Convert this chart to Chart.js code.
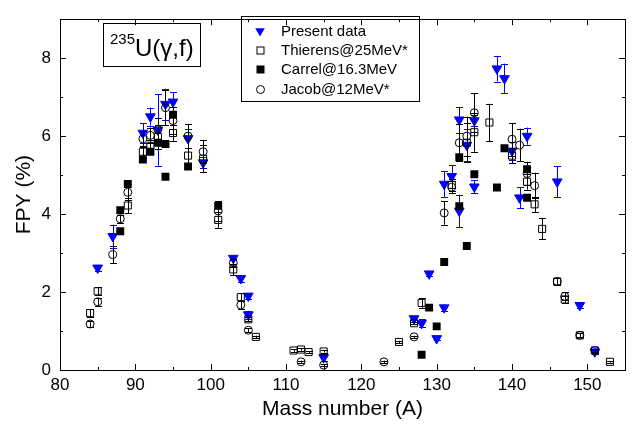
<!DOCTYPE html>
<html lang="en">
<head>
    <meta charset="UTF-8">
    <title>235U(γ,f) FPY</title>
    <script src="https://cdn.jsdelivr.net/npm/chart.js"></script>
    <style>
        body { margin: 0; background: #fff; }
        canvas { display: block; }
    </style>
</head>
<body>

<canvas id="fpyChart" width="638" height="424"></canvas>

<script>
    // tick positions
    const xTicks = [80, 90, 100, 110, 120, 130, 140, 150];
    const xMinor = [85, 95, 105, 115, 125, 135, 145, 155];
    const yTicks = [0, 2, 4, 6, 8];
    const yMinor = [1, 3, 5, 7, 9];

    // Present data
    const presentA   = [85, 87, 91, 92, 93, 94, 95, 97, 99, 103, 104, 105, 105, 115, 127, 128, 129, 130, 131, 131, 132, 133, 133, 134, 135, 135, 138, 139, 140, 141, 142, 146, 149, 151];
    const presentY   = [2.62, 3.43, 6.08, 6.5, 6.16, 6.82, 6.88, 5.94, 5.32, 2.87, 2.35, 1.9, 1.42, 0.32, 1.32, 1.2, 2.47, 0.81, 1.6, 4.77, 4.97, 4.08, 6.42, 5.77, 6.4, 4.7, 7.73, 7.48, 5.62, 4.42, 6.0, 4.83, 1.66, 0.47];
    const presentErr = [0.08, 0.3, 0.25, 0.23, 0.92, 0.4, 0.25, 0.24, 0.15, 0.06, 0.08, 0.07, 0.1, 0.1, 0.05, 0.1, 0.07, 0.05, 0.08, 0.33, 0.29, 0.42, 0.33, 0.42, 0.15, 0.17, 0.33, 0.38, 0.24, 0.27, 0.22, 0.4, 0.07, 0.05];

    // Thierens@25MeV*
    const thierensA   = [84, 85, 89, 91, 92, 93, 95, 97, 99, 101, 103, 104, 105, 106, 111, 112, 113, 115, 125, 127, 128, 132, 134, 135, 137, 140, 142, 143, 144, 146, 147, 149, 151, 153];
    const thierensY   = [1.46, 2.02, 4.22, 5.6, 5.75, 5.98, 6.08, 5.5, 5.42, 3.85, 2.58, 1.87, 1.3, 0.85, 0.5, 0.525, 0.46, 0.475, 0.72, 1.2, 1.72, 4.75, 5.83, 6.1, 6.35, 5.5, 4.83, 4.25, 3.62, 2.27, 1.81, 0.89, 0.5, 0.21];
    const thierensErr = [0.1, 0.1, 0.2, 0.15, 0.15, 0.3, 0.2, 0.2, 0.35, 0.2, 0.15, 0.1, 0.05, 0.03, 0.03, 0.03, 0.03, 0.03, 0.03, 0.03, 0.12, 0.15, 0.5, 0.5, 0.48, 0.2, 0.2, 0.2, 0.27, 0.1, 0.1, 0.05, 0.03, 0.02];

    // Carrel@16.3MeV
    const carrelA = [88, 88, 89, 91, 92, 93, 94, 94, 95, 97, 101, 128, 129, 130, 131, 133, 133, 134, 135, 138, 139, 142, 142];
    const carrelY = [3.56, 4.1, 4.77, 5.4, 5.6, 5.83, 5.8, 4.96, 6.55, 5.22, 4.21, 0.39, 1.6, 1.12, 2.77, 5.46, 4.2, 3.18, 5.02, 4.68, 5.69, 5.15, 4.42];

    // Jacob@12MeV*
    const jacobA   = [84, 85, 87, 88, 89, 91, 92, 93, 94, 95, 97, 99, 101, 103, 104, 105, 112, 115, 123, 127, 131, 132, 133, 134, 135, 140, 141, 142, 143, 146, 147, 149, 151];
    const jacobY   = [1.18, 1.75, 2.96, 3.88, 4.56, 5.93, 6.02, 6.17, 6.73, 6.4, 6.0, 5.6, 4.08, 2.75, 1.67, 1.02, 0.21, 0.125, 0.21, 0.85, 4.03, 4.69, 5.83, 6.0, 6.6, 5.92, 5.77, 5.04, 4.73, 2.27, 1.89, 0.89, 0.5];
    const jacobErr = [0.08, 0.1, 0.22, 0.1, 0.2, 0.2, 0.2, 0.3, 0.45, 0.35, 0.3, 0.3, 0.25, 0.1, 0.1, 0.05, 0.03, 0.03, 0.03, 0.03, 0.3, 0.15, 0.48, 0.5, 0.5, 0.42, 0.42, 0.3, 0.33, 0.1, 0.1, 0.05, 0.05];

    const FONT = "'Liberation Sans', Arial, sans-serif";
    const BLUE = '#0000ff';

    function points(xs, ys) {
        return xs.map((x, i) => ({ x: x, y: ys[i] }));
    }

    // vertical error bars with caps, drawn under each dataset's markers
    const errorBars = {
        id: 'errorBars',
        beforeDatasetDraw(chart, args) {
            const ds = chart.data.datasets[args.index];
            if (!ds.errors) return;
            const ctx = chart.ctx;
            const yScale = chart.scales.y;
            ctx.save();
            ctx.strokeStyle = ds.errorColor;
            ctx.lineWidth = 1;
            args.meta.data.forEach((pt, i) => {
                const v = ds.data[i].y;
                const e = ds.errors[i];
                const top = yScale.getPixelForValue(v + e);
                const bot = yScale.getPixelForValue(v - e);
                const x = Math.round(pt.x) + 0.5;
                ctx.beginPath();
                ctx.moveTo(x, top);
                ctx.lineTo(x, bot);
                ctx.moveTo(x - 3.5, Math.round(top) + 0.5);
                ctx.lineTo(x + 3.5, Math.round(top) + 0.5);
                ctx.moveTo(x - 3.5, Math.round(bot) + 0.5);
                ctx.lineTo(x + 3.5, Math.round(bot) + 0.5);
                ctx.stroke();
            });
            ctx.restore();
        }
    };

    function marker(ctx, kind, x, y) {
        ctx.beginPath();
        if (kind === 'tri') {
            ctx.fillStyle = BLUE;
            ctx.moveTo(x - 4.8, y - 2.8);
            ctx.lineTo(x + 4.8, y - 2.8);
            ctx.lineTo(x, y + 5.5);
            ctx.closePath();
            ctx.fill();
        } else if (kind === 'open') {
            ctx.strokeStyle = '#000';
            ctx.strokeRect(x - 3, y - 3, 7, 7);
        } else if (kind === 'filled') {
            ctx.fillStyle = '#000';
            ctx.fillRect(x - 3.5, y - 3.5, 8, 8);
        } else {
            ctx.strokeStyle = '#000';
            ctx.arc(x + 0.5, y + 0.5, 4, 0, Math.PI * 2);
            ctx.stroke();
        }
    }

    // frame, inward ticks, title box and legend
    const decorations = {
        id: 'decorations',
        afterDraw(chart) {
            const ctx = chart.ctx;
            const a = chart.chartArea;
            const xs = chart.scales.x, ys = chart.scales.y;
            ctx.save();
            ctx.strokeStyle = '#000';
            ctx.lineWidth = 1;
            ctx.strokeRect(Math.round(a.left) + 0.5, Math.round(a.top) + 0.5, Math.round(a.right - a.left), Math.round(a.bottom - a.top));

            ctx.beginPath();
            const xt = (vals, len) => vals.forEach(v => {
                const p = Math.round(xs.getPixelForValue(v)) + 0.5;
                ctx.moveTo(p, a.bottom); ctx.lineTo(p, a.bottom - len);
                ctx.moveTo(p, a.top); ctx.lineTo(p, a.top + len);
            });
            const yt = (vals, len) => vals.forEach(v => {
                const p = Math.round(ys.getPixelForValue(v)) + 0.5;
                ctx.moveTo(a.left, p); ctx.lineTo(a.left + len, p);
                ctx.moveTo(a.right, p); ctx.lineTo(a.right - len, p);
            });
            xt(xTicks, 6); xt(xMinor, 3);
            yt(yTicks, 6); yt(yMinor, 3);
            ctx.stroke();

            // nuclide box
            ctx.strokeRect(103.5, 23.5, 97, 43);
            ctx.fillStyle = '#000';
            ctx.textBaseline = 'alphabetic';
            ctx.font = '15px ' + FONT;
            ctx.fillText('235', 110, 44);
            ctx.font = '24px ' + FONT;
            ctx.fillText('U(γ,f)', 135, 56);

            // legend
            ctx.strokeRect(241.5, 16.5, 178, 85);
            const entries = [
                ['tri', 'Present data', 31],
                ['open', 'Thierens@25MeV*', 50],
                ['filled', 'Carrel@16.3MeV', 69],
                ['circle', 'Jacob@12MeV*', 89]
            ];
            entries.forEach(([kind, label, y]) => {
                marker(ctx, kind, 260, y);
                ctx.fillStyle = '#000';
                ctx.font = '15px ' + FONT;
                ctx.textBaseline = 'middle';
                ctx.fillText(label, 281, y + 1);
            });
            ctx.restore();
        }
    };

    new Chart(document.getElementById('fpyChart'), {
        type: 'scatter',
        data: {
            datasets: [
                {
                    label: 'Jacob@12MeV*',
                    data: points(jacobA, jacobY),
                    errors: jacobErr,
                    errorColor: '#000',
                    pointStyle: 'circle',
                    pointRadius: 4,
                    borderWidth: 1,
                    borderColor: '#000',
                    backgroundColor: 'rgba(0,0,0,0)',
                    order: 1
                },
                {
                    label: 'Carrel@16.3MeV',
                    data: points(carrelA, carrelY),
                    pointStyle: 'rect',
                    pointRadius: 5.6,
                    borderWidth: 0,
                    borderColor: '#000',
                    backgroundColor: '#000',
                    order: 2
                },
                {
                    label: 'Thierens@25MeV*',
                    data: points(thierensA, thierensY),
                    errors: thierensErr,
                    errorColor: '#000',
                    pointStyle: 'rect',
                    pointRadius: 5,
                    borderWidth: 1,
                    borderColor: '#000',
                    backgroundColor: 'rgba(0,0,0,0)',
                    order: 3
                },
                {
                    label: 'Present data',
                    data: points(presentA, presentY),
                    errors: presentErr,
                    errorColor: BLUE,
                    pointStyle: 'triangle',
                    pointRotation: 180,
                    pointRadius: 5.6,
                    borderWidth: 1,
                    borderColor: BLUE,
                    backgroundColor: BLUE,
                    order: 4
                }
            ]
        },
        options: {
            responsive: false,
            animation: false,
            layout: { padding: { top: 0, right: 13, left: 0, bottom: 0 } },
            plugins: {
                legend: { display: false },
                tooltip: { enabled: false }
            },
            scales: {
                x: {
                    type: 'linear',
                    min: 80,
                    max: 155,
                    grid: { display: false, drawTicks: false },
                    border: { display: false },
                    afterBuildTicks: s => { s.ticks = xTicks.map(v => ({ value: v })); },
                    afterFit: s => { s.height = 54; },
                    ticks: { color: '#000', font: { size: 17, family: FONT }, padding: 5, maxRotation: 0 },
                    title: {
                        display: true,
                        text: 'Mass number (A)',
                        color: '#000',
                        font: { size: 21, family: FONT },
                        padding: { top: 0, bottom: 2 }
                    }
                },
                y: {
                    min: 0,
                    max: 9,
                    grid: { display: false, drawTicks: false },
                    border: { display: false },
                    afterBuildTicks: s => { s.ticks = yTicks.map(v => ({ value: v })); },
                    afterFit: s => { s.width = 60; },
                    ticks: { color: '#000', font: { size: 17, family: FONT }, padding: 9 },
                    title: {
                        display: true,
                        text: 'FPY (%)',
                        color: '#000',
                        font: { size: 21, family: FONT },
                        padding: { top: 12, bottom: 0 }
                    }
                }
            }
        },
        plugins: [errorBars, decorations]
    });
</script>

</body>
</html>
